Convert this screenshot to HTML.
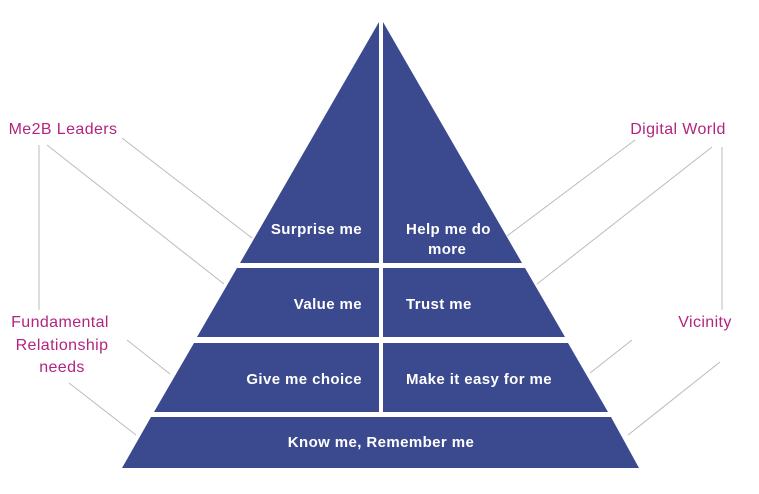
<!DOCTYPE html>
<html><head><style>
body{margin:0;background:#fff;}
svg{display:block;font-family:"Liberation Sans",sans-serif;}
</style></head><body>
<svg width="759" height="494" viewBox="0 0 759 494">
<g stroke="#bbb" stroke-width="1" fill="none">
<line x1="122" y1="138" x2="252" y2="238"/>
<line x1="47" y1="145" x2="224" y2="284"/>
<line x1="39" y1="145" x2="39" y2="310"/>
<line x1="127" y1="340" x2="170" y2="374"/>
<line x1="69" y1="383" x2="136" y2="435"/>
<line x1="635" y1="140" x2="507" y2="236"/>
<line x1="712" y1="147" x2="537" y2="284"/>
<line x1="722" y1="147" x2="722" y2="310"/>
<line x1="632" y1="340" x2="590" y2="373"/>
<line x1="720" y1="362" x2="628" y2="435"/>
</g>
<g fill="#3b4a8f">
<polygon points="379,22 379,263 240,263"/>
<polygon points="383,22 383,263 522,263"/>
<polygon points="379,268 379,337 197,337 237,268"/>
<polygon points="383,268 383,337 565,337 525,268"/>
<polygon points="379,343 379,412 154,412 194,343"/>
<polygon points="383,343 383,412 608,412 568,343"/>
<polygon points="151,417 611,417 639,468 122,468"/>
</g>
<g fill="#fff" font-size="15" font-weight="bold" letter-spacing="0.4">
<text x="362" y="234" text-anchor="end">Surprise me</text>
<text x="406" y="234">Help me do</text>
<text x="428" y="254">more</text>
<text x="362" y="309" text-anchor="end">Value me</text>
<text x="406" y="309">Trust me</text>
<text x="362" y="384" text-anchor="end">Give me choice</text>
<text x="406" y="384">Make it easy for me</text>
<text x="381" y="447" text-anchor="middle">Know me, Remember me</text>
</g>
<g fill="#b3247f" font-size="16" letter-spacing="0.4">
<text x="63" y="134" text-anchor="middle">Me2B Leaders</text>
<text x="60" y="327" text-anchor="middle">Fundamental</text>
<text x="62" y="350" text-anchor="middle">Relationship</text>
<text x="62" y="372" text-anchor="middle">needs</text>
<text x="678" y="134" text-anchor="middle">Digital World</text>
<text x="705" y="327" text-anchor="middle">Vicinity</text>
</g>
</svg>
</body></html>
